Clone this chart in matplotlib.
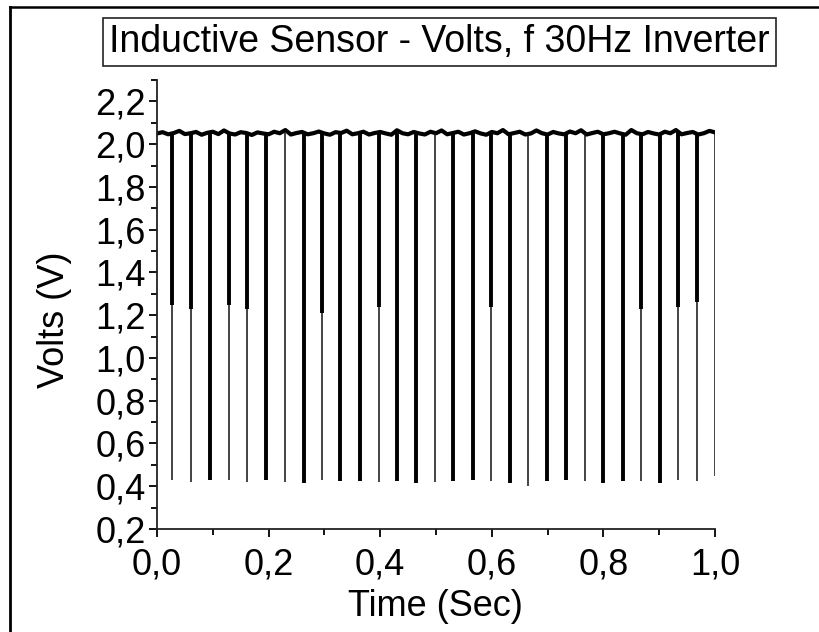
import numpy as np
import matplotlib
matplotlib.use("Agg")
from matplotlib import pyplot as plt
from matplotlib.ticker import MultipleLocator, FuncFormatter
from matplotlib.lines import Line2D

# pulse times (s)
spike_t = [0.0274, 0.0609, 0.0950, 0.1285, 0.1618, 0.1959, 0.2294, 0.2629, 0.2962, 0.3285,
           0.3633, 0.3973, 0.4301, 0.4647, 0.4982, 0.5310, 0.5658, 0.5986, 0.6326, 0.6654,
           0.6990, 0.7330, 0.7665, 0.7998, 0.8346, 0.8674, 0.9014, 0.9343, 0.9683, 0.9995]
# lowest value of each pulse
spike_min = [0.43, 0.42, 0.43, 0.43, 0.42, 0.43, 0.42, 0.415, 0.43, 0.425,
             0.425, 0.42, 0.425, 0.415, 0.42, 0.425, 0.43, 0.425, 0.415, 0.40,
             0.425, 0.43, 0.425, 0.415, 0.425, 0.425, 0.415, 0.43, 0.425, 0.45]
# where the thick part of the pulse ends (2.05 = thin pulse, min = thick all the way)
spike_knee = [1.25, 1.23, 0.43, 1.25, 1.23, 0.43, 2.05, 0.415, 1.21, 0.425,
              0.425, 1.24, 0.425, 0.415, 2.05, 0.425, 0.43, 1.24, 0.415, 2.05,
              0.425, 0.43, 2.05, 0.415, 0.425, 1.23, 0.415, 1.24, 1.26, 2.05]

# top level of the signal, every 10 ms
base_t = np.arange(101) * 0.01
base_v = [2.050, 2.056, 2.046, 2.052, 2.062, 2.047, 2.051, 2.057, 2.044, 2.053,
          2.058, 2.047, 2.064, 2.050, 2.045, 2.056, 2.052, 2.043, 2.055, 2.050,
          2.046, 2.058, 2.051, 2.066, 2.045, 2.052, 2.057, 2.046, 2.051, 2.059,
          2.050, 2.044, 2.056, 2.052, 2.063, 2.046, 2.051, 2.058, 2.045, 2.052,
          2.057, 2.050, 2.044, 2.065, 2.051, 2.046, 2.057, 2.050, 2.045, 2.058,
          2.051, 2.064, 2.046, 2.052, 2.058, 2.045, 2.051, 2.060, 2.050, 2.044,
          2.057, 2.051, 2.066, 2.046, 2.052, 2.058, 2.045, 2.050, 2.064, 2.051,
          2.045, 2.057, 2.050, 2.046, 2.059, 2.051, 2.065, 2.045, 2.052, 2.058,
          2.046, 2.051, 2.058, 2.050, 2.044, 2.066, 2.051, 2.046, 2.057, 2.050,
          2.045, 2.058, 2.051, 2.066, 2.046, 2.052, 2.057, 2.045, 2.051, 2.062,
          2.055]
base_level = 2.05

plt.rcParams['font.family'] = ['Liberation Sans', 'DejaVu Sans']

fig = plt.figure(figsize=(8.19, 6.32), dpi=100)
ax = fig.add_axes([157/819, 1 - 529/632, (715 - 157)/819, (529 - 80)/632])

ax.plot(base_t, base_v, color='black', lw=3.0, solid_joinstyle='round')
ax.vlines(spike_t, spike_knee, base_level, color='black', lw=2.8)
ax.vlines(spike_t, spike_min, spike_knee, color='#111111', lw=1.1)

ax.set_xlim(0.0, 1.0)
ax.set_ylim(0.2, 2.3)

ax.spines['top'].set_visible(False)
ax.spines['right'].set_visible(False)
for s in ('left', 'bottom'):
    ax.spines[s].set_linewidth(1.3)
    ax.spines[s].set_color('#222222')

ax.xaxis.set_major_locator(MultipleLocator(0.2))
ax.xaxis.set_minor_locator(MultipleLocator(0.1))
ax.yaxis.set_major_locator(MultipleLocator(0.2))
ax.yaxis.set_minor_locator(MultipleLocator(0.1))
comma = FuncFormatter(lambda v, p: ("%.1f" % v).replace('.', ','))
ax.xaxis.set_major_formatter(comma)
ax.yaxis.set_major_formatter(comma)
ax.tick_params(which='major', direction='out', length=6, width=1.3, labelsize=26)
ax.tick_params(axis='x', which='major', pad=7)
ax.tick_params(axis='y', which='major', pad=2)
ax.tick_params(which='minor', direction='out', length=4, width=1.3)

fig.text(54/819, 1 - 320/632, "Volts (V)", rotation=90, ha='center', va='center', fontsize=26)
fig.text(435/819, 1 - 607/632, "Time (Sec)", ha='center', va='center', fontsize=26)

fig.text(439.5/819, 1 - 42/632, "Inductive Sensor - Volts, f 30Hz Inverter",
         ha='center', va='center', fontsize=27,
         bbox=dict(boxstyle='square,pad=0.16', fc='white', ec='#222222', lw=1.2))

# outer frame of the screenshot (only top and left edges visible)
fig.add_artist(Line2D([10/819, 1.0], [1 - 6.5/632, 1 - 6.5/632], transform=fig.transFigure,
                      color='black', lw=1.8))
fig.add_artist(Line2D([10/819, 10/819], [0.0, 1 - 6.5/632], transform=fig.transFigure,
                      color='black', lw=2.0))

fig.savefig("out.png", dpi=100)
